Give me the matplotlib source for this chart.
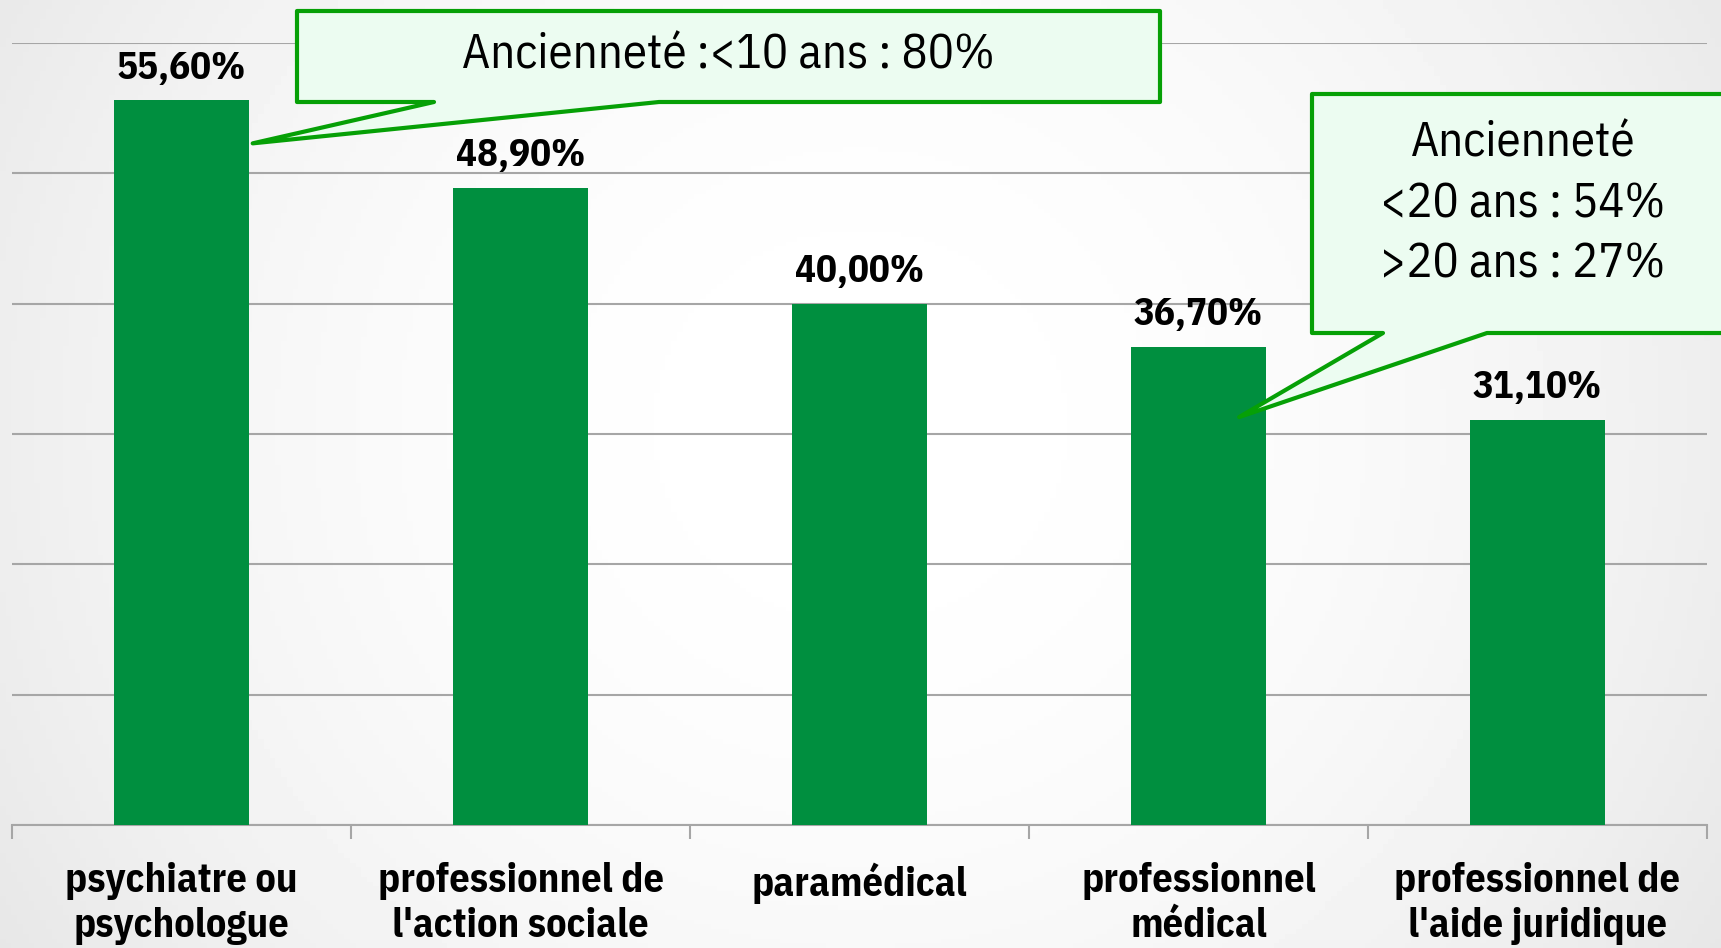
import matplotlib.pyplot as plt
import numpy as np
from matplotlib.patches import Polygon

# données
categories = ["psychiatre ou\npsychologue", "professionnel de\nl'action sociale",
              "paramédical", "professionnel\nmédical", "professionnel de\nl'aide juridique"]
valeurs = [55.6, 48.9, 40.0, 36.7, 31.1]
texte_bulle1 = "Ancienneté :<10 ans : 80%"
texte_bulle2 = "Ancienneté\n<20 ans : 54%\n>20 ans : 27%"

W, H = 1721, 948
police = ['IBM Plex Sans Condensed', 'DejaVu Sans']
vert = '#008F3F'
fig = plt.figure(figsize=(W / 100, H / 100), dpi=100)

# fond dégradé (blanc au centre, gris sur les bords)
bg = fig.add_axes([0, 0, 1, 1], zorder=-10)
yy, xx = np.mgrid[0:1:200j, 0:1:300j]
r = np.sqrt(((xx - 0.5) / 0.5) ** 2 * 0.9 + ((yy - 0.45) / 0.5) ** 2 * 0.3)
bg.imshow(1 - 0.075 * r ** 2, cmap='gray', vmin=0, vmax=1, aspect='auto', extent=[0, 1, 0, 1])
bg.axis('off')

def px(x, y):
    return x / W, 1 - y / H

ax = fig.add_axes([12 / W, 1 - 825 / H, (1707 - 12) / W, (825 - 43) / H])
ax.patch.set_alpha(0)
x = np.arange(len(categories))
ax.bar(x, valeurs, width=0.4, color=vert, zorder=3)
ax.set_xlim(-0.5, len(categories) - 0.5)
ax.set_ylim(0, 60)
ax.set_yticks(np.arange(0, 61, 10))
ax.yaxis.grid(True, color='#a6a6a6', linewidth=1.5, zorder=0)
ax.tick_params(axis='y', left=False, labelleft=False)
for s in ['left', 'right', 'top']:
    ax.spines[s].set_visible(False)
ax.spines['bottom'].set_color('#a6a6a6')
ax.spines['bottom'].set_linewidth(1.5)
ax.set_xticks(np.arange(-0.5, len(categories), 1))
ax.set_xticklabels([])
ax.tick_params(axis='x', length=10, width=1.5, color='#a6a6a6')
for i, c in enumerate(categories):
    ax.annotate(c, (i, 0), xytext=(0, -27), textcoords='offset points',
                ha='center', va='top', fontsize=29, fontweight='bold',
                family=police, linespacing=1.22, annotation_clip=False)

for i, v in enumerate(valeurs):
    ax.annotate(("%.2f%%" % v).replace('.', ','), (i, v), xytext=(0, 23),
                textcoords='offset points', ha='center', va='center',
                fontsize=28, fontweight='bold', family=police)

# bulles de commentaire
def bulle(rect, base, tip_data):
    tx, ty = ax.transData.transform(tip_data)
    tip = (tx / W, ty / H)
    x0, y0, x1, y1 = rect
    pts = [px(x0, y0), px(x1, y0), px(x1, y1), px(base[1], y1), tip,
           px(base[0], y1), px(x0, y1)]
    fig.patches.append(Polygon(pts, closed=True, transform=fig.transFigure,
                               facecolor='#ecfcf1', edgecolor='#06a006',
                               linewidth=3, joinstyle='round', zorder=5))

bulle((297, 11, 1160, 102), (434, 659), (0.21, 52.3))
bulle((1312, 94, 1740, 333), (1383, 1487), (3.12, 31.3))
fig.text(*px(728, 55), texte_bulle1, ha='center', va='center', fontsize=35,
         family=police, zorder=6)
fig.text(*px(1523, 204), texte_bulle2, ha='center', va='center', fontsize=35,
         family=police, linespacing=1.4, zorder=6)

plt.savefig('out.png', dpi=100)
